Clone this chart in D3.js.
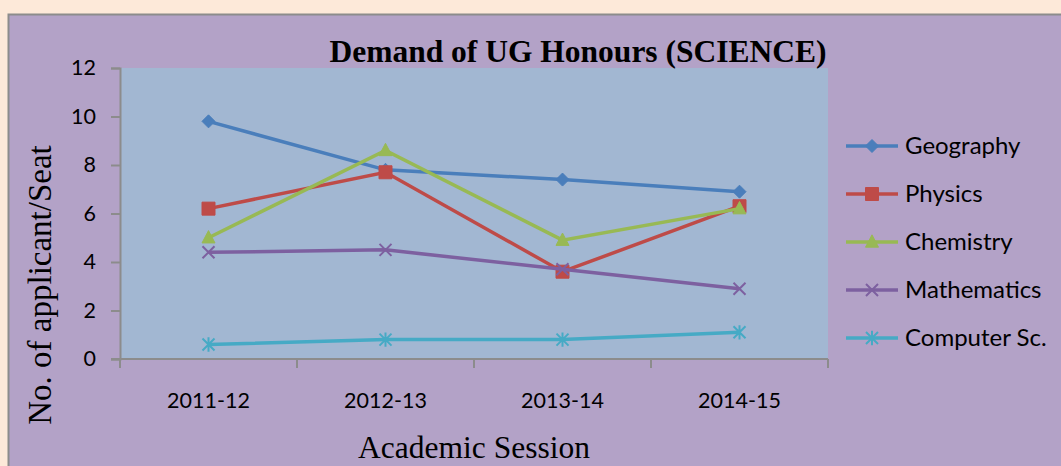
<!DOCTYPE html>
<html>
<head>
<meta charset="utf-8">
<script src="https://cdn.jsdelivr.net/npm/d3@7"></script>
<style>
  body { margin: 0; background: #fde9d9; }
  svg { display: block; }
</style>
</head>
<body>
<div id="chart"></div>
<script>
const sessions = ["2011-12", "2012-13", "2013-14", "2014-15"];
const subjects = ["Geography", "Physics", "Chemistry", "Mathematics", "Computer Sc."];
const geography = [9.8, 7.8, 7.4, 6.9];
const physics = [6.2, 7.7, 3.6, 6.3];
const chemistry = [5.0, 8.6, 4.9, 6.2];
const mathematics = [4.4, 4.5, 3.7, 2.9];
const computerSc = [0.6, 0.8, 0.8, 1.1];
const yTicks = [0, 2, 4, 6, 8, 10, 12];

const seriesValues = [geography, physics, chemistry, mathematics, computerSc];
const colors = ["#4a7ebb", "#be4b48", "#98b954", "#7d60a0", "#46aac5"];
const symbols = ["diamond", "square", "triangle", "x", "asterisk"];

const width = 1061, height = 466;
const margin = { top: 68, right: 233, bottom: 107, left: 120 };

const svg = d3.select("#chart")
  .append("svg")
  .attr("width", width)
  .attr("height", height);

// chart area (purple box)
svg.append("rect")
  .attr("x", 8.5).attr("y", 14.5)
  .attr("width", width + 10).attr("height", height + 10)
  .attr("fill", "#b3a2c7")
  .attr("stroke", "#8c8c8c")
  .attr("stroke-width", 2);

const x = d3.scaleBand(sessions, [margin.left, width - margin.right]);
const y = d3.scaleLinear([0, 12], [height - margin.bottom, margin.top]);

// plot area
svg.append("rect")
  .attr("x", margin.left).attr("y", margin.top)
  .attr("width", width - margin.right - margin.left)
  .attr("height", height - margin.bottom - margin.top)
  .attr("fill", "#a2b7d2");

// axes
const yAxis = svg.append("g")
  .attr("transform", `translate(${margin.left},0)`)
  .call(d3.axisLeft(y).tickValues(yTicks).tickSize(9).tickPadding(15));
const xAxis = svg.append("g")
  .attr("transform", `translate(0,${height - margin.bottom})`)
  .call(d3.axisBottom(x).tickSize(0).tickPadding(34));

// x axis tick marks at band boundaries
xAxis.selectAll(".bound")
  .data(sessions.concat(["end"]))
  .join("line")
  .attr("class", "bound")
  .attr("x1", (d, i) => margin.left + i * x.bandwidth())
  .attr("x2", (d, i) => margin.left + i * x.bandwidth())
  .attr("y1", 0).attr("y2", 9)
  .attr("stroke", "#8c8c8c")
  .attr("stroke-width", 2);

[yAxis, xAxis].forEach(g => {
  g.select(".domain").attr("stroke", "#8c8c8c").attr("stroke-width", 2);
  g.selectAll(".tick line").attr("stroke", "#8c8c8c").attr("stroke-width", 2);
  g.selectAll("text")
    .attr("fill", "#000")
    .style("font-family", "Lato, 'Liberation Sans', sans-serif")
    .style("font-size", "21.5px");
});
xAxis.select(".domain").attr("d", `M${margin.left - 9},0H${width - margin.right}`);

// symbol paths
function marker(type, s) {
  if (type === "diamond") return `M0,${-s}L${s},0L0,${s}L${-s},0Z`;
  if (type === "square") return `M${-s},${-s}H${s}V${s}H${-s}Z`;
  if (type === "triangle") return `M0,${-s * 1.1}L${s},${s * 0.8}H${-s}Z`;
  if (type === "x") return `M${-s},${-s}L${s},${s}M${s},${-s}L${-s},${s}`;
  return `M${-s},${-s}L${s},${s}M${s},${-s}L${-s},${s}M0,${-s * 1.2}V${s * 1.2}`;
}
const markerSize = [6.5, 6.5, 6.5, 6, 6];

const cx = d => x(d) + x.bandwidth() / 2;
const line = d3.line()
  .x((v, i) => cx(sessions[i]))
  .y(v => y(v));

seriesValues.forEach((vals, k) => {
  svg.append("path")
    .attr("d", line(vals))
    .attr("fill", "none")
    .attr("stroke", colors[k])
    .attr("stroke-width", 3.5);
  const open = symbols[k] === "x" || symbols[k] === "asterisk";
  svg.append("g")
    .selectAll("path")
    .data(vals)
    .join("path")
    .attr("transform", (v, i) => `translate(${cx(sessions[i])},${y(v)})`)
    .attr("d", marker(symbols[k], markerSize[k]))
    .attr("fill", open ? "none" : colors[k])
    .attr("stroke", colors[k])
    .attr("stroke-width", open ? 2 : 1);
});

// title
svg.append("text")
  .attr("x", 578).attr("y", 62)
  .attr("text-anchor", "middle")
  .style("font-family", "'Liberation Serif', 'Times New Roman', serif")
  .style("font-weight", "bold")
  .style("font-size", "31.5px")
  .text("Demand of UG Honours (SCIENCE)");

// axis titles
svg.append("text")
  .attr("transform", "translate(51,285) rotate(-90)")
  .attr("text-anchor", "middle")
  .style("font-family", "'Liberation Serif', 'Times New Roman', serif")
  .style("font-size", "33px")
  .text("No. of applicant/Seat");

svg.append("text")
  .attr("x", 474).attr("y", 458)
  .attr("text-anchor", "middle")
  .style("font-family", "'Liberation Serif', 'Times New Roman', serif")
  .style("font-size", "31.5px")
  .text("Academic Session");

// legend
const legend = svg.selectAll(".legend-group")
  .data(subjects)
  .join("g")
  .attr("class", "legend-group")
  .attr("transform", (d, i) => `translate(872,${146 + i * 48})`);

legend.append("line")
  .attr("x1", -26).attr("x2", 26)
  .attr("stroke", (d, i) => colors[i])
  .attr("stroke-width", 3.5);
legend.append("path")
  .attr("d", (d, i) => marker(symbols[i], markerSize[i]))
  .attr("fill", (d, i) => (symbols[i] === "x" || symbols[i] === "asterisk") ? "none" : colors[i])
  .attr("stroke", (d, i) => colors[i])
  .attr("stroke-width", (d, i) => (symbols[i] === "x" || symbols[i] === "asterisk") ? 2 : 1);
legend.append("text")
  .attr("x", 33).attr("y", 8)
  .style("font-family", "Lato, 'Liberation Sans', sans-serif")
  .style("font-size", "24px")
  .text(d => d);
</script>
</body>
</html>
